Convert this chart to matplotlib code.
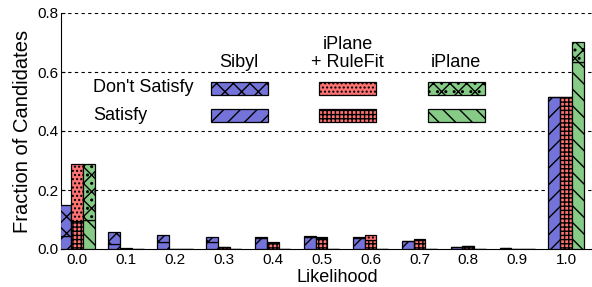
import numpy as np
import matplotlib.pyplot as plt
from matplotlib.patches import Rectangle

plt.rcParams['font.family'] = ['Liberation Sans', 'DejaVu Sans']
plt.rcParams['hatch.linewidth'] = 1.0

bins = [0.0, 0.1, 0.2, 0.3, 0.4, 0.5, 0.6, 0.7, 0.8, 0.9, 1.0]
tick_labels = ['0.0', '0.1', '0.2', '0.3', '0.4', '0.5', '0.6', '0.7', '0.8', '0.9', '1.0']

# bottom part = satisfy, top part = don't satisfy
sibyl_sat = [0.044, 0.017, 0.023, 0.023, 0.037, 0.040, 0.037, 0.026, 0.007, 0.002, 0.516]
sibyl_not = [0.105, 0.042, 0.024, 0.017, 0.003, 0.004, 0.003, 0.002, 0.001, 0.000, 0.000]
rule_sat = [0.096, 0.001, 0.001, 0.006, 0.022, 0.036, 0.032, 0.030, 0.010, 0.001, 0.516]
rule_not = [0.192, 0.001, 0.000, 0.002, 0.003, 0.004, 0.016, 0.004, 0.001, 0.000, 0.000]
ipl_sat = [0.098, 0.000, 0.000, 0.000, 0.000, 0.000, 0.000, 0.000, 0.000, 0.000, 0.633]
ipl_not = [0.190, 0.000, 0.000, 0.000, 0.000, 0.000, 0.000, 0.000, 0.000, 0.000, 0.070]

blue = '#7373d9'
red = '#ff7373'
green = '#86cc86'

series = [
    ('Sibyl', sibyl_sat, sibyl_not, blue, '//', 'xx'),
    ('iPlane\n+ RuleFit', rule_sat, rule_not, red, '++++', '....'),
    ('iPlane', ipl_sat, ipl_not, green, '\\\\', 'xx..'),
]

fig = plt.figure(figsize=(5.92, 2.87), dpi=100)
ax = fig.add_axes([61 / 592, 1 - 249 / 287, 531 / 592, 236 / 287])

x = np.array(bins)
w = 0.024
for i, (name, sat, nsat, col, h_sat, h_not) in enumerate(series):
    pos = x + (i - 1) * w
    ax.bar(pos, sat, w, color=col, edgecolor='black', linewidth=0.9, hatch=h_sat, zorder=3)
    ax.bar(pos, nsat, w, bottom=sat, color=col, edgecolor='black', linewidth=0.9, hatch=h_not, zorder=3)

ax.set_xlim(-0.033, 1.053)
ax.set_ylim(0, 0.8)
ax.set_xticks(bins)
ax.set_xticklabels(tick_labels, fontsize=11)
ax.set_yticks([0.0, 0.2, 0.4, 0.6, 0.8])
ax.set_yticklabels(['0.0', '0.2', '0.4', '0.6', '0.8'], fontsize=11)
ax.tick_params(axis='x', length=0, pad=3)
ax.tick_params(axis='y', direction='in', length=3, pad=2)
for y in [0.2, 0.4, 0.6, 0.8]:
    ax.axhline(y, color='black', linestyle=(0, (3, 3)), linewidth=0.8, zorder=1)
ax.spines['top'].set_visible(False)
ax.spines['right'].set_visible(False)
ax.set_xlabel('Likelihood', fontsize=13)
ax.xaxis.set_label_coords(0.52, -0.083)
ax.set_ylabel('Fraction of Candidates', fontsize=14.5, labelpad=4)

# hand-made legend table
cols_x = [0.282, 0.486, 0.691]
pw, ph = 0.107, 0.056
row_y = [0.651, 0.538]
ax.text(0.060, 0.686, "Don't Satisfy", transform=ax.transAxes, fontsize=13, va='center', ha='left')
ax.text(0.060, 0.566, 'Satisfy', transform=ax.transAxes, fontsize=13, va='center', ha='left')
for cx, (name, sat, nsat, col, h_sat, h_not) in zip(cols_x, series):
    ax.text(cx + pw / 2, 0.755, name, transform=ax.transAxes, fontsize=13,
            ha='center', va='bottom', linespacing=1.05)
    ax.add_patch(Rectangle((cx, row_y[0]), pw, ph, transform=ax.transAxes,
                           facecolor=col, edgecolor='black', linewidth=0.9, hatch=h_not, zorder=4))
    ax.add_patch(Rectangle((cx, row_y[1]), pw, ph, transform=ax.transAxes,
                           facecolor=col, edgecolor='black', linewidth=0.9, hatch=h_sat, zorder=4))

fig.savefig('out.png', dpi=100)
